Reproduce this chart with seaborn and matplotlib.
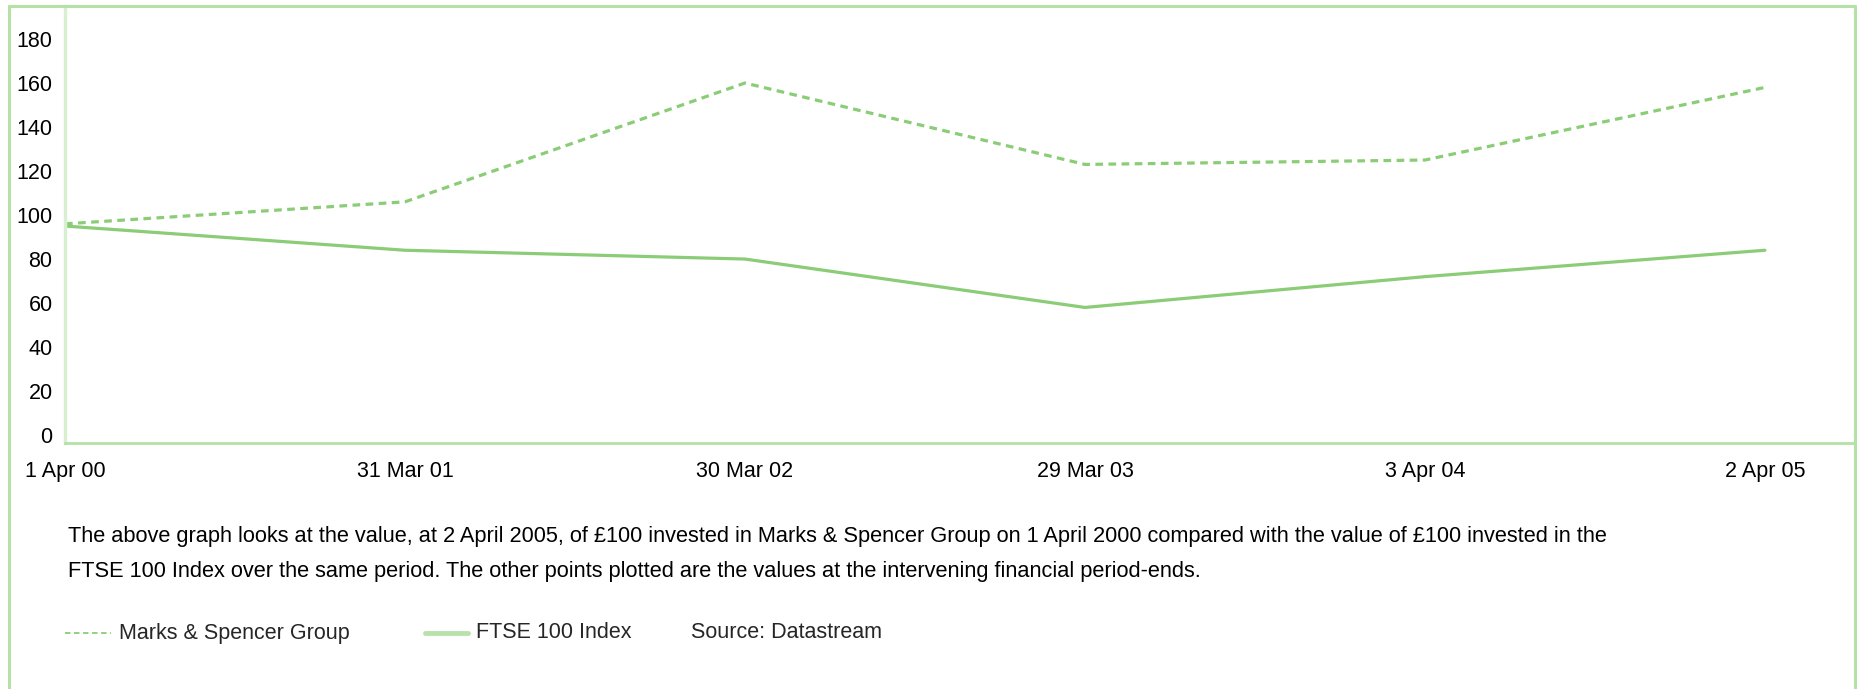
import matplotlib
matplotlib.use("Agg")
import matplotlib.pyplot as plt
from matplotlib.lines import Line2D
import seaborn as sns
import pandas as pd

periods = ["1 Apr 00", "31 Mar 01", "30 Mar 02", "29 Mar 03", "3 Apr 04", "2 Apr 05"]
ms_values = [96, 106, 160, 123, 125, 158]
ftse_values = [95, 84, 80, 58, 72, 84]
y_ticks = [0, 20, 40, 60, 80, 100, 120, 140, 160, 180]

caption = ("The above graph looks at the value, at 2 April 2005, of £100 invested in Marks & Spencer Group on 1 April 2000 compared with the value of £100 invested in the\n"
           "FTSE 100 Index over the same period. The other points plotted are the values at the intervening financial period-ends.")
legend_ms = "Marks & Spencer Group"
legend_ftse = "FTSE 100 Index"
source = "Source: Datastream"

sns.set_theme(style="white")
plt.rcParams["font.family"] = ["Liberation Sans", "DejaVu Sans"]

LINE = "#8bcc77"
FRAME = "#b5e0a6"
LIGHT = "#d9efd1"

W, H = 1867, 689
fig = plt.figure(figsize=(W / 100, H / 100), dpi=100)
fig.patch.set_facecolor("white")

ax = fig.add_axes([65 / W, 1 - 443 / H, (1855 - 65) / W, (443 - 6) / H])
df = pd.DataFrame({"x": range(len(periods)), "ms": ms_values, "ftse": ftse_values})
sns.lineplot(data=df, x="x", y="ms", ax=ax, color=LINE, linewidth=2.3,
             linestyle=(0, (2.4, 1.7)))
sns.lineplot(data=df, x="x", y="ftse", ax=ax, color=LINE, linewidth=2.3)

ax.set_xlim(0, 5.265)
ax.set_ylim(-3.6, 195)
ax.set_xticks(range(len(periods)))
ax.set_xticklabels(periods)
ax.set_yticks(y_ticks)
ax.set_yticklabels([str(v) for v in y_ticks])
ax.set_xlabel("")
ax.set_ylabel("")
ax.tick_params(axis="y", length=0, pad=9, labelsize=15.5, colors="black")
ax.tick_params(axis="x", length=0, pad=13, labelsize=15.5, colors="black")
for s in ["top", "right"]:
    ax.spines[s].set_visible(False)
ax.spines["left"].set_color(LIGHT)
ax.spines["left"].set_linewidth(2.5)
ax.spines["bottom"].set_color(FRAME)
ax.spines["bottom"].set_linewidth(2.0)
ax.set_facecolor("white")
ax.grid(False)

# outer frame
fig.add_artist(Line2D([9 / W, 9 / W], [0, 1 - 6 / H], color=FRAME, lw=2.2, transform=fig.transFigure))
fig.add_artist(Line2D([1855 / W, 1855 / W], [0, 1 - 6 / H], color=FRAME, lw=2.2, transform=fig.transFigure))
fig.add_artist(Line2D([9 / W, 1855 / W], [1 - 6 / H, 1 - 6 / H], color=FRAME, lw=2.2, transform=fig.transFigure))

# caption
fig.text(68 / W, 1 - 554 / H, caption, fontsize=15.7, va="center", ha="left", color="black",
         linespacing=1.85)

# legend row
ly = 1 - 633 / H
fig.add_artist(Line2D([65 / W, 111 / W], [ly, ly], color=LINE, lw=1.3,
                      linestyle=(0, (3, 2)), transform=fig.transFigure))
fig.text(119 / W, ly, legend_ms, fontsize=15.5, va="center", ha="left")
fig.add_artist(Line2D([425 / W, 468 / W], [ly, ly], color="#b9e2ab", lw=3.5,
                      transform=fig.transFigure))
fig.text(476 / W, ly, legend_ftse, fontsize=15.5, va="center", ha="left")
fig.text(691 / W, ly, source, fontsize=15.5, va="center", ha="left")

fig.savefig("out.png", dpi=100)
